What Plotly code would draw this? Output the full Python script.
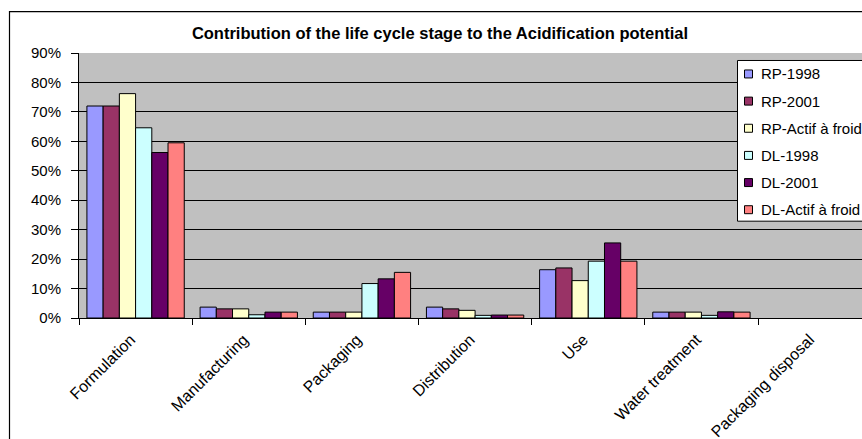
import plotly.graph_objects as go

# Life cycle stages (x categories)
stages = ["Formulation", "Manufacturing", "Packaging", "Distribution",
          "Use", "Water treatment", "Packaging disposal"]

# Share of the acidification potential per stage, in %
rp_1998 = [72.0, 3.7, 2.0, 3.7, 16.4, 2.0, 0.0]
rp_2001 = [72.0, 3.1, 2.0, 3.1, 17.0, 2.0, 0.0]
rp_actif = [76.2, 3.1, 2.0, 2.6, 12.7, 2.0, 0.0]
dl_1998 = [64.6, 1.1, 11.7, 0.9, 19.3, 0.9, 0.0]
dl_2001 = [56.2, 2.0, 13.3, 1.0, 25.5, 2.1, 0.0]
dl_actif = [59.5, 2.0, 15.5, 1.0, 19.3, 2.0, 0.0]

series_names = ["RP-1998", "RP-2001", "RP-Actif à froid",
                "DL-1998", "DL-2001", "DL-Actif à froid"]
series_values = [rp_1998, rp_2001, rp_actif, dl_1998, dl_2001, dl_actif]
series_colors = ["#9999FF", "#993366", "#FFFFCC", "#CCFFFF", "#660066", "#FF8080"]

y_ticks = [0, 10, 20, 30, 40, 50, 60, 70, 80, 90]

FONT = "Liberation Sans, Arial, sans-serif"
W, H = 862, 439
# plot area in pixels
L, R, T, B = 79, 862, 53, 318.5
CAT_W = 113.17  # pixel width of one category slot


def px_x(px):
    return (px - L) / (R - L)


def px_y(py):
    return (B - py) / (B - T)


fig = go.Figure()
for name, vals, col in zip(series_names, series_values, series_colors):
    fig.add_trace(go.Bar(
        x=stages, y=vals, name=name,
        marker=dict(color=col,
                    line=dict(color="black", width=[1 if v > 0 else 0 for v in vals])),
        showlegend=False,
    ))

shapes = []
annotations = []

# outer chart frame
shapes.append(dict(type="rect", xref="paper", yref="paper",
                   x0=px_x(9.5), x1=px_x(W + 40), y0=px_y(11.5), y1=px_y(H + 40),
                   line=dict(color="black", width=1.2), fillcolor="rgba(0,0,0,0)",
                   layer="above"))

# legend box
shapes.append(dict(type="rect", xref="paper", yref="paper",
                   x0=px_x(737.5), x1=px_x(W + 40), y0=px_y(60.5), y1=px_y(221.5),
                   line=dict(color="black", width=1), fillcolor="white",
                   layer="above"))
for i, (name, col) in enumerate(zip(series_names, series_colors)):
    cy = 74 + i * 27.2
    shapes.append(dict(type="rect", xref="paper", yref="paper",
                       x0=px_x(744.5), x1=px_x(752.5), y0=px_y(cy + 4), y1=px_y(cy - 4),
                       line=dict(color="black", width=1), fillcolor=col,
                       layer="above"))
    annotations.append(dict(text=name, xref="paper", yref="paper",
                            x=px_x(759), y=px_y(cy), xanchor="left", yanchor="middle",
                            showarrow=False, font=dict(family=FONT, size=15, color="black")))

fig.update_layout(
    width=W, height=H,
    margin=dict(l=L, r=W - R, t=T, b=H - B, autoexpand=False),
    paper_bgcolor="white",
    plot_bgcolor="#C0C0C0",
    bargap=0.14, bargroupgap=0,
    title=dict(text="<b>Contribution of the life cycle stage to the Acidification potential</b>",
               xref="container", yref="container", x=440 / W, y=1 - 33 / H,
               xanchor="center", yanchor="middle",
               font=dict(family=FONT, size=16.5, color="black")),
    font=dict(family=FONT, size=15, color="black"),
    shapes=shapes,
    annotations=annotations,
)

fig.update_xaxes(
    range=[-0.5, -0.5 + (R - L) / CAT_W],
    tickson="boundaries", ticks="outside", ticklen=6, tickcolor="black",
    showline=True, linecolor="black", linewidth=1,
    showgrid=False, tickangle=-45, ticklabelshift=-5, ticklabelstandoff=5,
    tickfont=dict(family=FONT, size=16, color="black"),
)
fig.update_yaxes(
    range=[0, 90], tickvals=y_ticks, ticktext=[f"{v}%" for v in y_ticks],
    ticks="outside", ticklen=7, tickcolor="black", ticklabelstandoff=7,
    showline=True, linecolor="black", linewidth=1,
    showgrid=True, gridcolor="black", gridwidth=1, zeroline=False,
    tickfont=dict(family=FONT, size=15, color="black"),
)

fig.write_html("out.html")
